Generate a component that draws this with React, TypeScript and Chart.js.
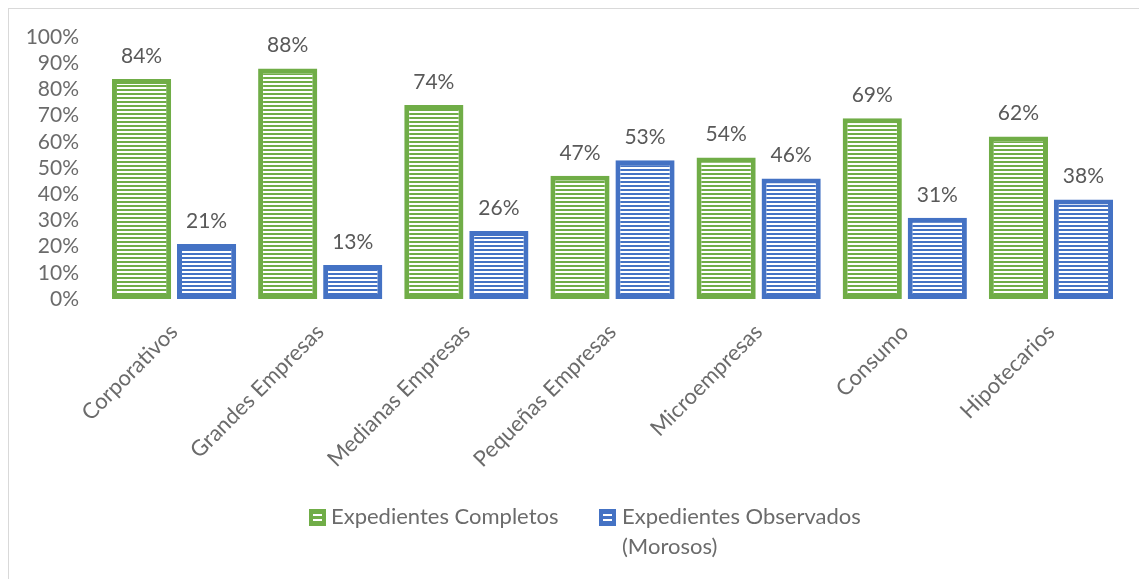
import React, { useEffect, useRef } from "react";
import { Chart, registerables } from "chart.js";

Chart.register(...registerables);

const categories = [
  "Corporativos",
  "Grandes Empresas",
  "Medianas Empresas",
  "Pequeñas Empresas",
  "Microempresas",
  "Consumo",
  "Hipotecarios",
];
const completos = [84, 88, 74, 47, 54, 69, 62];
const observados = [21, 13, 26, 53, 46, 31, 38];
const seriesNames = ["Expedientes Completos", ["Expedientes Observados", "(Morosos)"]];
const GREEN = "#70AD47";
const BLUE = "#4472C4";
const FONT = "Lato, 'Open Sans', sans-serif";

function makePattern(color: string): CanvasPattern | string {
  const c = document.createElement("canvas");
  c.width = 4;
  c.height = 4;
  const g = c.getContext("2d");
  if (!g) return color;
  g.fillStyle = "#ffffff";
  g.fillRect(0, 0, 4, 4);
  g.fillStyle = color;
  g.fillRect(0, 0, 4, 2);
  const p = g.createPattern(c, "repeat");
  return p || color;
}

const labelPlugin = {
  id: "valueLabels",
  afterDatasetsDraw(chart: any) {
    const ctx = chart.ctx;
    ctx.save();
    ctx.font = `21px ${FONT}`;
    ctx.fillStyle = "#595959";
    ctx.textAlign = "center";
    ctx.textBaseline = "middle";
    chart.data.datasets.forEach((ds: any, di: number) => {
      const meta = chart.getDatasetMeta(di);
      meta.data.forEach((bar: any, i: number) => {
        ctx.fillText(ds.data[i] + "%", bar.x, bar.y - 23);
      });
    });
    ctx.restore();
  },
};

const legendPlugin = {
  id: "customLegend",
  afterDraw(chart: any) {
    const ctx = chart.ctx;
    ctx.save();
    const items = [
      { color: GREEN, box: 300, text: 322, lines: [seriesNames[0] as string] },
      { color: BLUE, box: 590, text: 613, lines: seriesNames[1] as string[] },
    ];
    items.forEach((it) => {
      ctx.fillStyle = it.color;
      ctx.fillRect(it.box, 500, 17, 17);
      ctx.fillStyle = "#ffffff";
      ctx.fillRect(it.box + 4, 505, 9, 2);
      ctx.fillRect(it.box + 4, 510, 9, 2);
      ctx.font = `22px ${FONT}`;
      ctx.fillStyle = "#6b6b6b";
      ctx.textAlign = "left";
      ctx.textBaseline = "middle";
      it.lines.forEach((ln, k) => ctx.fillText(ln, it.text, 508 + k * 30));
    });
    ctx.restore();
  },
};

export default function App() {
  const ref = useRef<HTMLCanvasElement>(null);
  useEffect(() => {
    if (!ref.current) return;
    const chart = new Chart(ref.current, {
      type: "bar",
      data: {
        labels: categories,
        datasets: [
          {
            label: seriesNames[0] as string,
            data: completos,
            backgroundColor: makePattern(GREEN) as any,
            borderColor: GREEN,
            borderWidth: 5,
            borderSkipped: false,
            categoryPercentage: 0.89,
            barPercentage: 0.91,
          },
          {
            label: (seriesNames[1] as string[]).join(" "),
            data: observados,
            backgroundColor: makePattern(BLUE) as any,
            borderColor: BLUE,
            borderWidth: 5,
            borderSkipped: false,
            categoryPercentage: 0.89,
            barPercentage: 0.91,
          },
        ],
      },
      options: {
        animation: false,
        responsive: false,
        maintainAspectRatio: false,
        layout: { padding: { top: 28, right: 23, left: 0, bottom: 0 } },
        plugins: {
          legend: { display: false },
          tooltip: { enabled: false },
        },
        scales: {
          x: {
            grid: { display: false, drawTicks: false },
            border: { display: false },
            ticks: {
              font: { family: FONT, size: 22 },
              color: "#6b6b6b",
              minRotation: 45,
              maxRotation: 45,
              autoSkip: false,
              padding: 20,
            },
            afterFit: (s: any) => {
              s.height = 280;
            },
          },
          y: {
            min: 0,
            max: 100,
            grid: { display: false, drawTicks: false },
            border: { display: false },
            ticks: {
              stepSize: 10,
              autoSkip: false,
              font: { family: FONT, size: 21 },
              color: "#6b6b6b",
              padding: 22,
              callback: (v: any) => v + "%",
            },
            afterFit: (s: any) => {
              s.width = 92;
              s.paddingTop = 0;
              s.paddingBottom = 0;
            },
          },
        },
      },
      plugins: [labelPlugin, legendPlugin],
    });
    return () => chart.destroy();
  }, []);
  return (
    <div
      style={{
        borderTop: "1px solid #d9d9d9",
        borderLeft: "1px solid #d9d9d9",
        width: 1138,
        height: 570,
        background: "#fff",
      }}
    >
      <canvas ref={ref} width={1138} height={570} style={{ display: "block" }} />
    </div>
  );
}
